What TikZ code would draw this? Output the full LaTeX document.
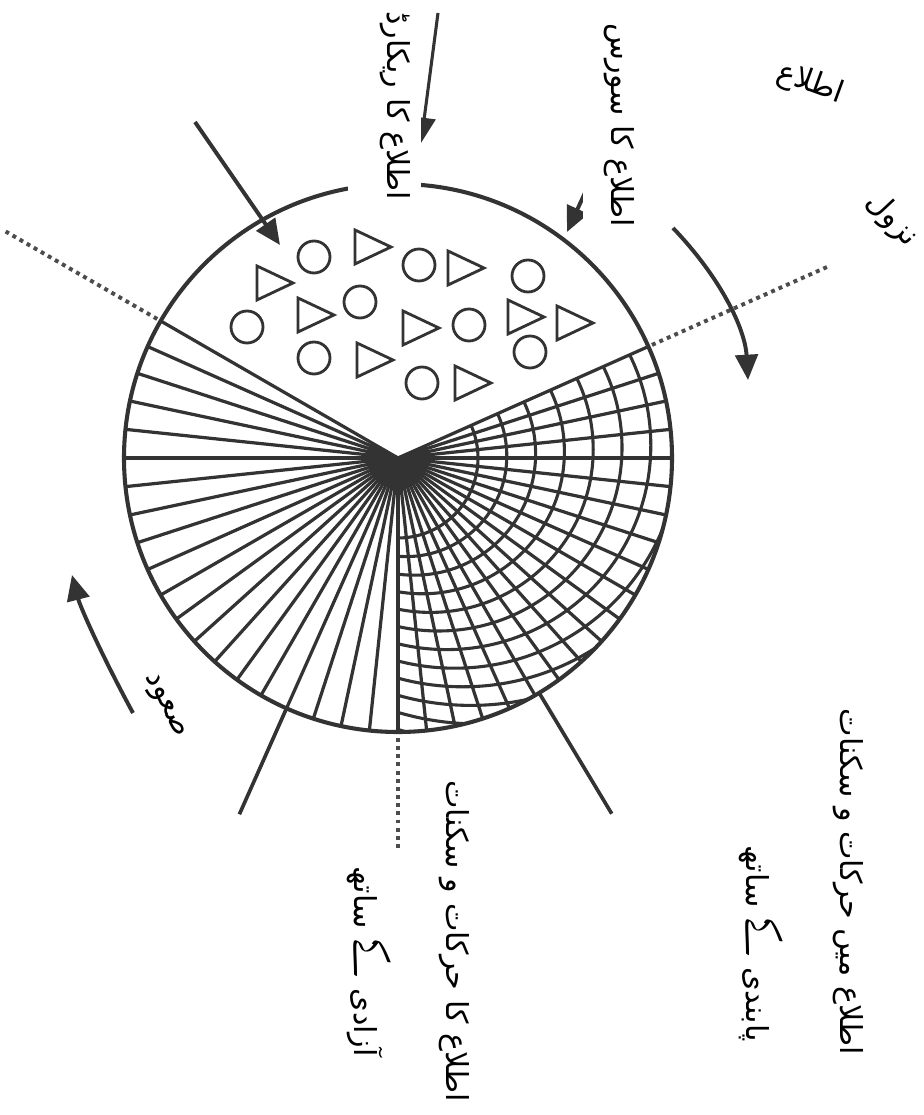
\documentclass[tikz,border=0pt]{standalone}
\usepackage{fontspec}
\newfontfamily\urdu[Script=Arabic]{DejaVu Sans}
\newfontfamily\urduk[Script=Arabic,Scale=1.15]{Amiri-Regular.ttf}
\TeXXeTstate=1
\usetikzlibrary{arrows.meta}
\newcommand\ke{{\urduk کے}}

\begin{document}
\begin{tikzpicture}[
		x=0.025cm,y=0.025cm,
		rim/.style={draw=black!80,line width=2.9pt},
		ray/.style={draw=black!80,line width=2.3pt},
		ring/.style={draw=black!80,line width=2.2pt},
		dots/.style={draw=black!70,line width=2.8pt,dash pattern=on 2.8pt off 3pt},
		tail/.style={draw=black!80,line width=2.6pt},
		flow/.style={-{Triangle[length=18pt,width=16pt]},draw=black!80,line width=2.8pt},
		token/.style={draw=black!80,line width=2pt},
		lbl/.style={font=\urdu\fontsize{21.5}{26}\selectfont,fill=white,inner sep=2pt},
		vlbl/.style={lbl,rotate=-90,anchor=east},
		tall/.style={lbl,rotate=-90,anchor=base east,text height=22pt}]
	\useasboundingbox (-398,-657) rectangle (526,458);
	\coordinate (o) at (0,0);
	\begin{scope}
		\clip (o) -- (-90:274) arc[start angle=-90,end angle=24,radius=274] -- cycle;
		\foreach \k in {0,...,11}
			\draw[ring] ({8.1*\k},{2.1*\k}) circle[radius={80+20.7*\k}];
	\end{scope}
	\foreach \a in {150,156,...,384}
		\draw[ray] (o) -- (\a:274);
	\fill[black!80] (o) -- (150:31) arc[start angle=150,end angle=384,radius=31] -- cycle;
	\draw[rim] (o) circle[radius=274];
	\draw[dots] (150:278) -- (150:453);
	\draw[dots] (24:278) -- (24:473);
	\draw[dots] (-90:280) -- (-90:394);
	\draw[tail] (246:274) -- (246:390);
	\draw[tail] (-59:274) -- (-59:415);
	\foreach \x/\y in {-84/201,21/193,130/182,-38/156,-151/131,71/133,-84/100,132/106,24/75}
		\draw[token] (\x,\y) circle[radius=16];
	\foreach \x/\y in {-26/211,-124/175,67/190,-83/143,22/130,127/141,176/135,-24/98,74/75}
		\draw[token] ({\x-17},{\y+17}) -- ({\x-17},{\y-17}) -- ({\x+19},\y) -- cycle;
	\coordinate (recA) at (40,445);
	\coordinate (recB) at (23,315);
	\coordinate (srcA) at (202,298);
	\coordinate (srcB) at (169,226);
	\coordinate (inA) at (-203,336);
	\coordinate (inB) at (-118,213);
	\coordinate (dnA) at (275,230);
	\coordinate (dnB) at (350,78);
	\coordinate (upA) at (-265,-255);
	\coordinate (upB) at (-326,-117);
	\draw[flow,line width=2.2pt] (recA) -- (recB);
	\draw[flow] (srcA) -- (srcB);
	\draw[flow] (inA) -- (inB);
	\draw[flow] (dnA) .. controls (322,181) and (347,130) .. (dnB);
	\draw[flow] (upA) .. controls (-298,-194) and (-318,-148) .. (upB);
	\node[tall,text depth=26pt] (rec) at (-11,255) {\beginR اطلاع کا ریکارڈ\endR};
	\node[tall,text depth=18pt] (src) at (213,228) {\beginR اطلاع کا سورس\endR};
	\node[vlbl] (freeA) at (56,-647) {\beginR اطلاع کا حرکات و سکنات\endR};
	\node[vlbl] (freeB) at (-29,-602) {\beginR آزادی \ke{} ساتھ\endR};
	\node[vlbl] (boundA) at (450,-600) {\beginR اطلاع میں حرکات و سکنات\endR};
	\node[vlbl] (boundB) at (363,-587) {\beginR پابندی \ke{} ساتھ\endR};
	\node[lbl,rotate=-20] (info) at (412,374) {\beginR اطلاع\endR};
	\node[lbl,rotate=-47] (down) at (494,238) {\beginR نزول\endR};
	\node[lbl,rotate=-63] (up) at (-234,-248) {\beginR صعود\endR};
\end{tikzpicture}
\end{document}
